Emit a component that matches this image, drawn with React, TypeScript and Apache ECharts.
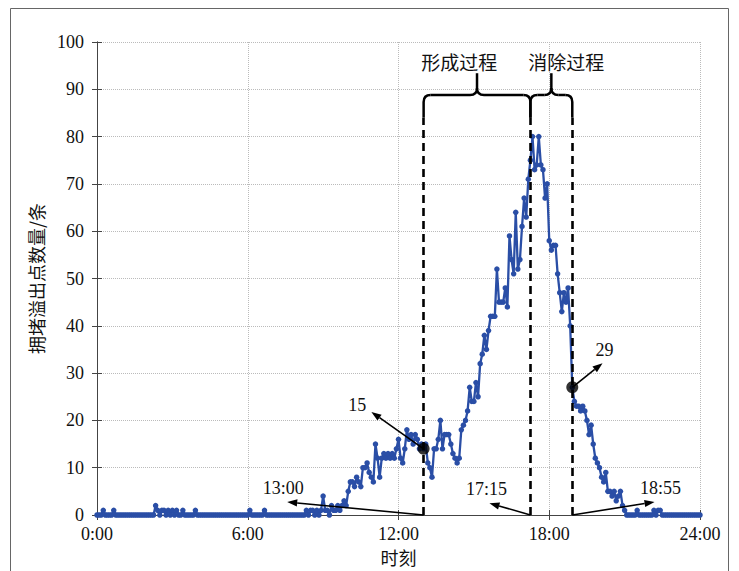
import React, { useEffect, useRef } from "react";
import * as echarts from "echarts";

// counts every 5 minutes, one row per hour (00:00 ... 23:55), plus 24:00
const STEP_MIN = 5;
const H00 = [0, 0, 0, 1, 0, 0, 0, 0, 1, 0, 0, 0];
const H01 = [0, 0, 0, 0, 0, 0, 0, 0, 0, 0, 0, 0];
const H02 = [0, 0, 0, 0, 2, 1, 0, 1, 1, 0, 1, 0];
const H03 = [1, 0, 1, 0, 0, 1, 0, 0, 0, 0, 0, 1];
const H04 = [0, 0, 0, 0, 0, 0, 0, 0, 0, 0, 0, 0];
const H05 = [0, 0, 0, 0, 0, 0, 0, 0, 0, 0, 0, 0];
const H06 = [0, 1, 0, 0, 0, 0, 0, 0, 1, 0, 0, 0];
const H07 = [0, 0, 0, 0, 0, 0, 0, 0, 0, 0, 0, 0];
const H08 = [0, 0, 0, 0, 1, 0, 1, 1, 0, 1, 0, 1];
const H09 = [4, 1, 1, 0, 2, 1, 1, 2, 1, 2, 3, 2];
const H10 = [5, 7, 7, 6, 8, 7, 6, 10, 10, 11, 9, 8];
const H11 = [7, 15, 12, 8, 12, 13, 12, 13, 12, 13, 12, 14];
const H12 = [16, 12, 11, 14, 18, 16, 17, 15, 17, 16, 14, 15];
const H13 = [14, 15, 11, 10, 8, 14, 14, 16, 20, 14, 17, 17];
const H14 = [17, 15, 13, 12, 11, 12, 18, 19, 20, 22, 27, 24];
const H15 = [24, 28, 25, 32, 34, 38, 35, 39, 42, 42, 42, 52];
const H16 = [45, 45, 45, 48, 44, 59, 54, 51, 64, 52, 54, 61];
const H17 = [67, 63, 71, 75, 80, 73, 74, 80, 74, 73, 67, 70];
const H18 = [58, 56, 57, 57, 51, 47, 43, 47, 45, 48, 40, 27];
const H19 = [24, 23, 23, 22, 23, 22, 20, 17, 19, 15, 12, 11];
const H20 = [10, 8, 7, 9, 5, 5, 4, 5, 3, 4, 5, 2];
const H21 = [1, 0, 0, 0, 0, 0, 1, 0, 0, 0, 0, 0];
const H22 = [0, 0, 1, 0, 1, 1, 0, 0, 0, 0, 0, 0];
const H23 = [0, 0, 0, 0, 0, 0, 0, 0, 0, 0, 0, 0];
const H24 = [0];

const COUNTS = [
  ...H00, ...H01, ...H02, ...H03, ...H04, ...H05, ...H06, ...H07,
  ...H08, ...H09, ...H10, ...H11, ...H12, ...H13, ...H14, ...H15,
  ...H16, ...H17, ...H18, ...H19, ...H20, ...H21, ...H22, ...H23, ...H24,
];

const X_TICK_LABELS = ["0:00", "6:00", "12:00", "18:00", "24:00"];
const Y_MAX = 100;

// boundary times (hours): 13:00, 17:15, 18:55
const T_START = 13;
const T_PEAK = 17.25;
const T_END = 18 + 55 / 60;
const BOUNDARIES = [T_START, T_PEAK, T_END];
const DOT_TIMES = [T_START, T_END];

const BRACES = [
  { from: T_START, to: T_PEAK, label: "形成过程", labelAt: [14.42, 95.8] },
  { from: T_PEAK, to: T_END, label: "消除过程", labelAt: [18.68, 95.8] },
];
const BRACE_LEVEL = 88.8;
const BRACE_END = 84;
const BRACE_TIP = 93.4;

const valueAt = (t: number) => COUNTS[Math.round((t * 60) / STEP_MIN)];

const ANNOTATIONS = [
  { text: "13:00", from: [T_START, 0], to: [7.57, 2.75], at: [7.41, 5.7] },
  { text: "15", from: [T_START, valueAt(T_START)], to: [10.92, 21.8], at: [10.36, 23.3] },
  { text: "17:15", from: [T_PEAK, 0], to: [15.62, 2.5], at: [15.5, 5.5] },
  { text: "29", from: [T_END, valueAt(T_END)], to: [20.12, 32.1], at: [20.2, 34.9] },
  { text: "18:55", from: [T_END, 0], to: [22.19, 2.75], at: [22.43, 5.7] },
];

const SERIF = "'Liberation Serif', 'Times New Roman', serif";
const CJK = "'Noto Sans CJK SC', 'Noto Sans', sans-serif";
const AXIS_COLOR = "#444";
const BLUE = "#2a4ea6";

export default function App() {
  const ref = useRef<HTMLDivElement>(null);

  useEffect(() => {
    if (!ref.current) return;
    const chart = echarts.init(ref.current, undefined, { renderer: "svg" });
    const lineData = COUNTS.map((v, i) => [(i * STEP_MIN) / 60, v]);

    const option: any = {
      animation: false,
      grid: { left: 97, right: 39, top: 42, bottom: 56 },
      xAxis: [
        {
          type: "value",
          min: 0,
          max: 24,
          interval: 6,
          name: "时刻",
          nameLocation: "middle",
          nameGap: 28,
          nameTextStyle: { fontFamily: CJK, fontSize: 18, color: "#111" },
          axisLine: { show: true, lineStyle: { color: AXIS_COLOR, width: 1 } },
          axisTick: { show: true, inside: true, length: 5, lineStyle: { color: AXIS_COLOR } },
          axisLabel: {
            fontFamily: SERIF,
            fontSize: 18,
            color: "#111",
            margin: 10,
            formatter: (v: number) => X_TICK_LABELS[Math.round(v / 6)] ?? "",
          },
          splitLine: { show: true, lineStyle: { color: "#bbb", type: "dotted", width: 1 } },
        },
        {
          type: "value",
          position: "top",
          min: 0,
          max: 24,
          interval: 6,
          axisLine: { show: true, lineStyle: { color: AXIS_COLOR, width: 1 } },
          axisTick: { show: true, inside: true, length: 5, lineStyle: { color: AXIS_COLOR } },
          axisLabel: { show: false },
          splitLine: { show: false },
        },
      ],
      yAxis: [
        {
          type: "value",
          min: 0,
          max: Y_MAX,
          interval: 10,
          name: "拥堵溢出点数量/条",
          nameLocation: "middle",
          nameGap: 52,
          nameRotate: 90,
          nameTextStyle: { fontFamily: CJK, fontSize: 18, color: "#111" },
          axisLine: { show: true, lineStyle: { color: AXIS_COLOR, width: 1 } },
          axisTick: { show: true, inside: true, length: 5, lineStyle: { color: AXIS_COLOR } },
          axisLabel: { fontFamily: SERIF, fontSize: 18, color: "#111", margin: 13 },
          splitLine: { show: true, lineStyle: { color: "#bbb", type: "dotted", width: 1 } },
        },
        {
          type: "value",
          position: "right",
          min: 0,
          max: Y_MAX,
          interval: 10,
          axisLine: { show: true, lineStyle: { color: AXIS_COLOR, width: 1 } },
          axisTick: { show: true, inside: true, length: 5, lineStyle: { color: AXIS_COLOR } },
          axisLabel: { show: false },
          splitLine: { show: false },
        },
      ],
      series: [
        {
          type: "line",
          data: lineData,
          xAxisIndex: 0,
          yAxisIndex: 0,
          symbol: "circle",
          symbolSize: 5.5,
          showSymbol: true,
          showAllSymbol: true,
          itemStyle: { color: BLUE },
          lineStyle: { color: BLUE, width: 2.3 },
          silent: true,
          z: 3,
          markLine: {
            silent: true,
            symbol: ["none", "none"],
            label: { show: false },
            lineStyle: { color: "#000", width: 2.6, type: [8, 5] },
            data: BOUNDARIES.map((t) => [
              { coord: [t, 0] },
              { coord: [t, BRACE_END] },
            ]),
          },
        },
        {
          type: "scatter",
          data: DOT_TIMES.map((t) => [t, valueAt(t)]),
          symbol: "circle",
          symbolSize: 12,
          itemStyle: { color: "#000" },
          silent: true,
          z: 5,
        },
      ],
    };
    chart.setOption(option);

    const px = (p: number[]) => chart.convertToPixel({ gridIndex: 0 }, p) as number[];
    const elems: any[] = [];
    const stroke = { stroke: "#000", lineWidth: 2.5, fill: "none" };
    const r = 7;
    BRACES.forEach((b) => {
      const [xs, yH] = px([b.from, BRACE_LEVEL]);
      const [xe] = px([b.to, BRACE_LEVEL]);
      const [, yEnd] = px([b.from, BRACE_END]);
      const [, yTip] = px([b.from, BRACE_TIP]);
      const xm = (xs + xe) / 2;
      elems.push(
        { type: "line", shape: { x1: xs, y1: yEnd, x2: xs, y2: yH + r }, style: stroke },
        { type: "bezierCurve", shape: { x1: xs, y1: yH + r, cpx1: xs, cpy1: yH, x2: xs + r, y2: yH }, style: stroke },
        { type: "line", shape: { x1: xs + r, y1: yH, x2: xm - r, y2: yH }, style: stroke },
        { type: "bezierCurve", shape: { x1: xm - r, y1: yH, cpx1: xm, cpy1: yH, x2: xm, y2: yH - r }, style: stroke },
        { type: "bezierCurve", shape: { x1: xm + r, y1: yH, cpx1: xm, cpy1: yH, x2: xm, y2: yH - r }, style: stroke },
        { type: "line", shape: { x1: xm, y1: yH - r, x2: xm, y2: yTip }, style: stroke },
        { type: "line", shape: { x1: xm + r, y1: yH, x2: xe - r, y2: yH }, style: stroke },
        { type: "bezierCurve", shape: { x1: xe - r, y1: yH, cpx1: xe, cpy1: yH, x2: xe, y2: yH + r }, style: stroke },
        { type: "line", shape: { x1: xe, y1: yH + r, x2: xe, y2: yEnd }, style: stroke }
      );
      const [lx, ly] = px(b.labelAt);
      elems.push({
        type: "text",
        x: lx,
        y: ly,
        style: {
          text: b.label,
          fontFamily: CJK,
          fontSize: 19,
          fill: "#111",
          align: "center",
          verticalAlign: "middle",
        },
      });
    });

    const headLen = 10;
    const headHalf = 3.6;
    ANNOTATIONS.forEach((a) => {
      const [x1, y1] = px(a.from);
      const [x2, y2] = px(a.to);
      const dx = x2 - x1;
      const dy = y2 - y1;
      const len = Math.hypot(dx, dy);
      const ux = dx / len;
      const uy = dy / len;
      const bx = x2 - ux * headLen;
      const by = y2 - uy * headLen;
      elems.push(
        {
          type: "line",
          shape: { x1, y1, x2: bx, y2: by },
          style: { stroke: "#000", lineWidth: 1.6 },
          z: 10,
        },
        {
          type: "polygon",
          shape: {
            points: [
              [x2, y2],
              [bx - uy * headHalf, by + ux * headHalf],
              [bx + uy * headHalf, by - ux * headHalf],
            ],
          },
          style: { fill: "#000", stroke: "none" },
          z: 10,
        }
      );
      const [tx, ty] = px(a.at);
      elems.push({
        type: "text",
        x: tx,
        y: ty,
        style: {
          text: a.text,
          fontFamily: SERIF,
          fontSize: 18,
          fill: "#111",
          align: "center",
          verticalAlign: "middle",
        },
        z: 10,
      });
    });
    elems.push({
      type: "rect",
      shape: { x: 10.5, y: 8.5, width: 718, height: 600 },
      style: { fill: "none", stroke: "#666", lineWidth: 1 },
      silent: true,
    });
    chart.setOption({ graphic: elems });

    return () => chart.dispose();
  }, []);

  return (
    <div
      ref={ref}
      style={{ position: "absolute", left: 0, top: 0, width: 739, height: 571 }}
    />
  );
}
